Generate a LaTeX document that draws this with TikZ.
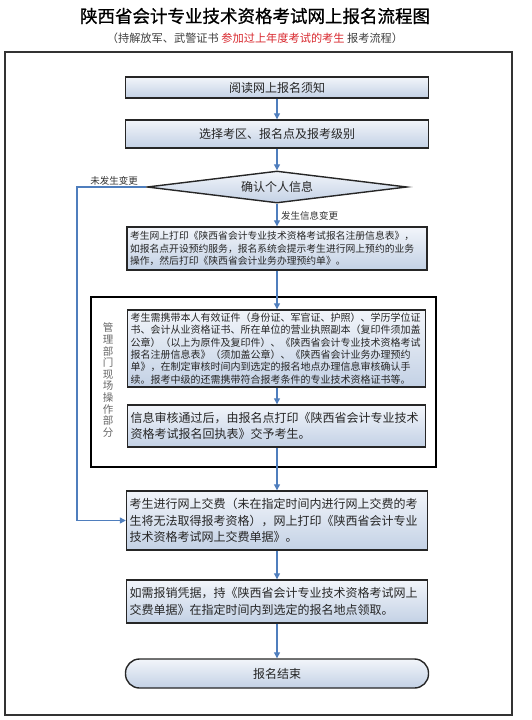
\documentclass[tikz,border=0pt]{standalone}
\usepackage{fontspec}
\setmainfont{Noto Sans CJK SC}
\newfontfamily\titlefont{Noto Sans CJK SC}[FakeBold=0.8]
\usetikzlibrary{arrows.meta,shapes.geometric}
\definecolor{boxtop}{HTML}{F2F5FA}
\definecolor{boxbot}{HTML}{C3D1E5}
\definecolor{arrowc}{HTML}{4F7EBD}
\definecolor{redtxt}{HTML}{D8282E}
\begin{document}
\begin{tikzpicture}[x=1pt,y=-1pt,
  box/.style={draw=black!85, line width=1.4pt, top color=boxtop, bottom color=boxbot,
    inner sep=2pt, text=black!85, font=\fontsize{12}{16.5}\selectfont},
  smallbox/.style={box, font=\fontsize{9.8}{12.5}\selectfont},
  flow/.style={draw=arrowc, line width=1.2pt, -{Triangle[length=6pt,width=6pt]}},
  lbl/.style={font=\fontsize{9.5}{11}\selectfont, text=black!80, inner sep=1pt}]
\path[use as bounding box] (0,0) rectangle (532,720);

% titles
\node[font=\titlefont\fontsize{17.5}{20}\selectfont, text=black] (title) at (255,16) {陕西省会计专业技术资格考试网上报名流程图};
\node[font=\fontsize{11.2}{13}\selectfont, text=black!75] (sub) at (255,38)
  {（持解放军、武警证书 \textcolor{redtxt}{参加过上年度考试的考生} 报考流程）};

% frames
\node[draw=black!80, line width=1.5pt, minimum width=507pt, minimum height=663pt, inner sep=0] (outer) at (258.5,383.5) {};
\node[draw=black, line width=1.8pt, minimum width=345pt, minimum height=170pt, inner sep=0] (mgmt) at (263.5,382) {};
\node[font=\fontsize{10.5}{11.6}\selectfont, text=black!60, align=center] (side) at (108,380)
  {管\\理\\部\\门\\现\\场\\操\\作\\部\\分};

% boxes
\node[box, minimum width=303pt, minimum height=21pt] (b1) at (277,87.5) {阅读网上报名须知};
\node[box, minimum width=303pt, minimum height=28pt] (b2) at (277,134) {选择考区、报名点及报考级别};
\node[draw=black!85, line width=1.4pt, top color=boxtop, bottom color=boxbot, diamond, aspect=8.1,
  minimum width=260pt, minimum height=32pt, inner sep=0pt, text=black!85,
  font=\fontsize{12}{14}\selectfont] (d) at (277,187) {确认个人信息};
\node[smallbox, minimum width=300pt, minimum height=43pt, text width=294pt, align=left] (b3) at (277,248.5)
  {考生网上打印《陕西省会计专业技术资格考试报名注册信息表》，\\
   如报名点开设预约服务，报名系统会提示考生进行网上预约的业务\\
   操作，然后打印《陕西省会计业务办理预约单》。};
\node[smallbox, font=\fontsize{10}{12.4}\selectfont, minimum width=298pt, minimum height=77pt, text width=292pt, align=left] (b4) at (276.5,348.5)
  {考生需携带本人有效证件（身份证、军官证、护照）、学历学位证\\
   书、会计从业资格证书、所在单位的营业执照副本（复印件须加盖\\
   公章）（以上为原件及复印件）、《陕西省会计专业技术资格考试\\
   报名注册信息表》（须加盖公章）、《陕西省会计业务办理预约\\
   单》，在制定审核时间内到选定的报名地点办理信息审核确认手\\
   续。报考中级的还需携带符合报考条件的专业技术资格证书等。};
\node[box, minimum width=298pt, minimum height=42pt, text width=292pt, align=left] (b5) at (276.5,426)
  {信息审核通过后，由报名点打印《陕西省会计专业技术\\
   资格考试报名回执表》交予考生。};
\node[box, minimum width=301pt, minimum height=59pt, text width=295pt, align=left] (b6) at (277,520.5)
  {考生进行网上交费（未在指定时间内进行网上交费的考\\
   生将无法取得报考资格），网上打印《陕西省会计专业\\
   技术资格考试网上交费单据》。};
\node[box, minimum width=301pt, minimum height=43pt, text width=295pt, align=left] (b7) at (277,601.5)
  {如需报销凭据，持《陕西省会计专业技术资格考试网上\\
   交费单据》在指定时间内到选定的报名地点领取。};
\node[box, rounded corners=14pt, minimum width=303pt, minimum height=29pt] (end) at (277,673.5) {报名结束};

% connectors
\draw[flow] (b1.south) -- (b1.south |- b2.north);
\draw[flow] (b2.south) -- (b2.south |- d.north);
\draw[flow] (d.south) -- (d.south |- b3.north);
\draw[flow] (b3.south) -- (b3.south |- b4.north);
\draw[flow] (b3.south |- b4.south) -- (b3.south |- b5.north);
\draw[flow] (b3.south |- b5.south) -- (b3.south |- b6.north);
\draw[flow] (b6.south) -- (b6.south |- b7.north);
\draw[flow] (b7.south) -- (b7.south |- end.north);
\coordinate (bend) at (77,187);
\draw[flow] (d.west) -- (bend) |- (b6.west);

\node[lbl, anchor=south] (l1) at (114,186) {未发生变更};
\node[lbl, anchor=west] (l2) at (280,216) {发生信息变更};
\end{tikzpicture}
\end{document}
